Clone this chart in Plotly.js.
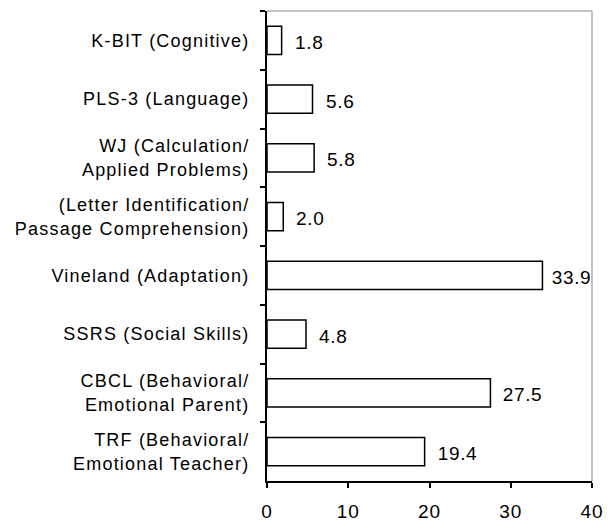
<!DOCTYPE html>
<html><head><meta charset="utf-8">
<script src="https://cdn.plot.ly/plotly-3.0.1.min.js"></script>
<style>
body{margin:0;padding:0;background:#fff}#chart{width:615px;height:522px}
#chart .ytick text{letter-spacing:1.2px}
#chart .annotation-text{letter-spacing:0.6px}
#chart .xtick text{letter-spacing:1px}
</style>
</head><body><div id="chart"></div>
<script>
const categories = [
  "K-BIT (Cognitive)",
  "PLS-3 (Language)",
  "WJ (Calculation/<br>Applied Problems)",
  "(Letter Identification/<br>Passage Comprehension)",
  "Vineland (Adaptation)",
  "SSRS (Social Skills)",
  "CBCL (Behavioral/<br>Emotional Parent)",
  "TRF (Behavioral/<br>Emotional Teacher)"
];
const values = [1.8, 5.6, 5.8, 2.0, 33.9, 4.8, 27.5, 19.4];
const xTicks = [0, 10, 20, 30, 40];
const xMax = 40;

const fam = "Liberation Sans, Arial, sans-serif";
const font = {family: fam, size: 18, color: "#000"};
const valFont = {family: fam, size: 19, color: "#000"};
const pxPerUnit = (615 - 267 - 23) / xMax;
const trace = {
  type: "bar", orientation: "h", x: values, y: categories,
  marker: {color: "#fff", line: {color: "#000", width: 1.5}},
  width: 0.48, hoverinfo: "none"
};
// labels sit outside the bar end, pulled back to stay inside the plot area
const annotations = values.map((v, i) => ({
  x: v, y: categories[i], xref: "x", yref: "y", text: v.toFixed(1),
  showarrow: false, xanchor: "left", yanchor: "middle",
  xshift: Math.min(12, (xMax - v) * pxPerUnit - 41), yshift: -2,
  font: valFont
}));
const layout = {
  width: 615, height: 522,
  margin: {l: 267, r: 23, t: 11, b: 41},
  paper_bgcolor: "#fff", plot_bgcolor: "#fff",
  font: font, showlegend: false,
  xaxis: {range: [0, xMax], tickvals: xTicks, ticktext: xTicks.map(String),
    tickfont: {family: fam, size: 19, color: "#000"},
    showgrid: false, zeroline: false, showline: true, linecolor: "#000", linewidth: 2,
    ticks: "outside", ticklen: 5, tickwidth: 2, tickcolor: "#000", ticklabelstandoff: 7, fixedrange: true},
  yaxis: {type: "category", autorange: "reversed", tickson: "boundaries",
    showgrid: false, zeroline: false, showline: true, linecolor: "#000", linewidth: 2,
    ticks: "outside", ticklen: 5, tickwidth: 2, tickcolor: "#000", ticklabelstandoff: 12, fixedrange: true},
  shapes: [
    {type: "line", xref: "paper", yref: "paper", x0: 0, x1: 1, y0: 1, y1: 1, line: {color: "#888", width: 1}},
    {type: "line", xref: "paper", yref: "paper", x0: 1, x1: 1, y0: 0, y1: 1, line: {color: "#888", width: 1}}
  ],
  annotations: annotations
};
Plotly.newPlot("chart", [trace], layout, {displayModeBar: false, staticPlot: true});
</script></body></html>
